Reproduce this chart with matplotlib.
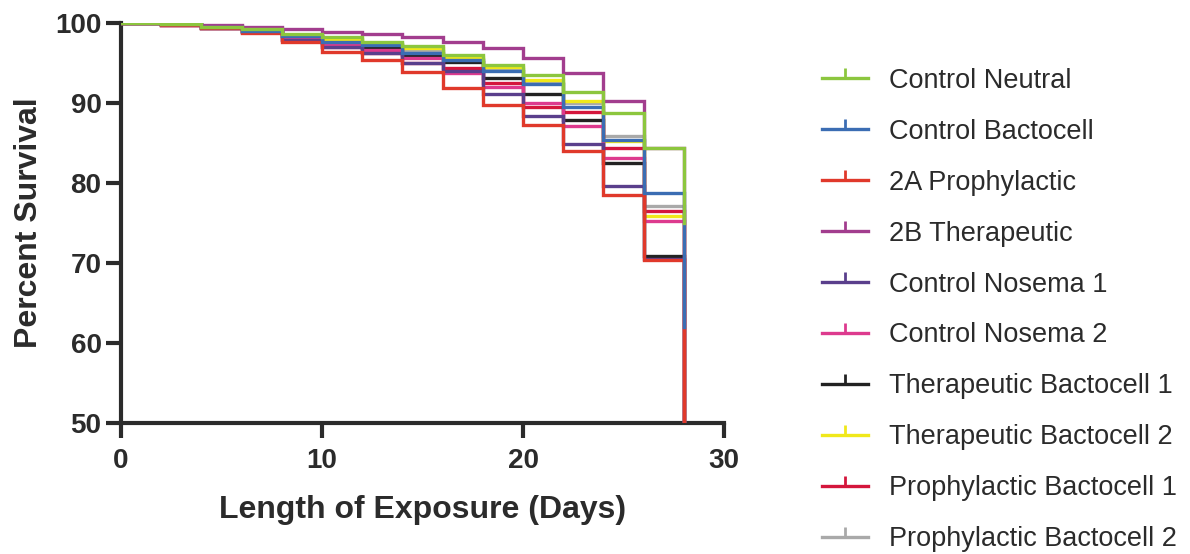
import matplotlib
matplotlib.use("Agg")
import matplotlib.pyplot as plt
from matplotlib.lines import Line2D

plt.rcParams['font.family'] = ['Liberation Sans', 'DejaVu Sans']

days = [0, 2, 4, 6, 8, 10, 12, 14, 16, 18, 20, 22, 24, 26, 28]

series_names = [
    "Control Neutral", "Control Bactocell", "2A Prophylactic", "2B Therapeutic",
    "Control Nosema 1", "Control Nosema 2", "Therapeutic Bactocell 1",
    "Therapeutic Bactocell 2", "Prophylactic Bactocell 1", "Prophylactic Bactocell 2",
]

control_neutral = [100, 99.8, 99.5, 99.2, 98.6, 98.2, 97.6, 97.1, 96.0, 94.7, 93.5, 91.4, 88.7, 84.4, 75]
control_bactocell = [100, 99.8, 99.5, 99.0, 98.3, 97.6, 97.2, 96.2, 95.3, 94.0, 92.3, 89.5, 85.4, 78.7, 62]
prophylactic_2a = [100, 99.7, 99.3, 98.75, 97.6, 96.4, 95.4, 93.8, 91.8, 89.7, 87.2, 84.0, 78.5, 70.3, 0]
therapeutic_2b = [100, 99.8, 99.7, 99.5, 99.2, 98.9, 98.6, 98.2, 97.6, 96.8, 95.6, 93.7, 90.2, 84.4, 0]
control_nosema_1 = [100, 99.7, 99.4, 98.9, 97.9, 97.0, 96.2, 95.0, 94.0, 91.1, 88.4, 84.8, 79.6, 70.5, 0]
control_nosema_2 = [100, 99.7, 99.4, 98.9, 98.0, 97.2, 96.6, 95.6, 93.7, 92.0, 90.0, 87.05, 83.1, 75.2, 0]
therapeutic_bc_1 = [100, 99.8, 99.4, 99.0, 98.3, 97.5, 96.8, 96.0, 95.1, 93.1, 91.1, 87.8, 82.5, 70.8, 0]
therapeutic_bc_2 = [100, 99.8, 99.5, 99.1, 98.5, 98.0, 97.4, 96.9, 95.7, 94.5, 92.9, 90.2, 85.2, 75.8, 0]
prophylactic_bc_1 = [100, 99.7, 99.4, 98.9, 97.9, 97.0, 96.2, 95.0, 94.4, 92.5, 89.5, 88.8, 84.35, 76.5, 0]
prophylactic_bc_2 = [100, 99.8, 99.5, 99.0, 98.4, 97.8, 97.3, 96.5, 95.5, 94.2, 92.5, 89.95, 85.8, 77.1, 0]

all_series = [control_neutral, control_bactocell, prophylactic_2a, therapeutic_2b,
              control_nosema_1, control_nosema_2, therapeutic_bc_1, therapeutic_bc_2,
              prophylactic_bc_1, prophylactic_bc_2]

colors = ["#8cc63e", "#3b6db3", "#e0392b", "#a23d8e", "#5a3f8c", "#dd3a8e",
          "#222222", "#f0e81a", "#d4163c", "#a9a9a9"]

x_ticks = [0, 10, 20, 30]
y_ticks = [50, 60, 70, 80, 90, 100]

fig = plt.figure(figsize=(11.90, 5.54), dpi=100)
ax = fig.add_axes([0.1017, 0.2365, 0.5067, 0.7225])

n = len(all_series)
for i, (vals, col) in enumerate(zip(all_series, colors)):
    ax.step(days, vals, where='post', color=col, lw=2.4, zorder=10 + n - i,
            solid_joinstyle='miter')

ax.set_xlim(0, 30)
ax.set_ylim(50, 100)
ax.set_xticks(x_ticks)
ax.set_yticks(y_ticks)
for s in ['top', 'right']:
    ax.spines[s].set_visible(False)
for s in ['left', 'bottom']:
    ax.spines[s].set_linewidth(3.0)
    ax.spines[s].set_color('#2b2b2b')
ax.tick_params(width=3.0, length=11, color='#2b2b2b', labelsize=20,
               labelcolor='#2b2b2b')
ax.tick_params(axis='x', pad=7)
ax.tick_params(axis='y', pad=3)
for lab in ax.get_xticklabels() + ax.get_yticklabels():
    lab.set_fontweight('bold')

ax.set_xlabel("Length of Exposure (Days)", fontsize=23, fontweight='bold',
              color='#2b2b2b', labelpad=15)
ax.set_ylabel("Percent Survival", fontsize=23, fontweight='bold',
              color='#2b2b2b', labelpad=8)

handles = [Line2D([0], [0], color=c, lw=2.4, marker=2, markersize=7,
                  markeredgewidth=2.0) for c in colors]
fig.legend(handles, series_names, loc='upper left',
           bbox_to_anchor=(0.6815, 0.897), bbox_transform=fig.transFigure,
           frameon=False, fontsize=19.5, labelspacing=0.92, handlelength=1.7,
           handletextpad=0.78, labelcolor='#2b2b2b', borderaxespad=0)

fig.savefig("out.png", dpi=100, facecolor='white')
